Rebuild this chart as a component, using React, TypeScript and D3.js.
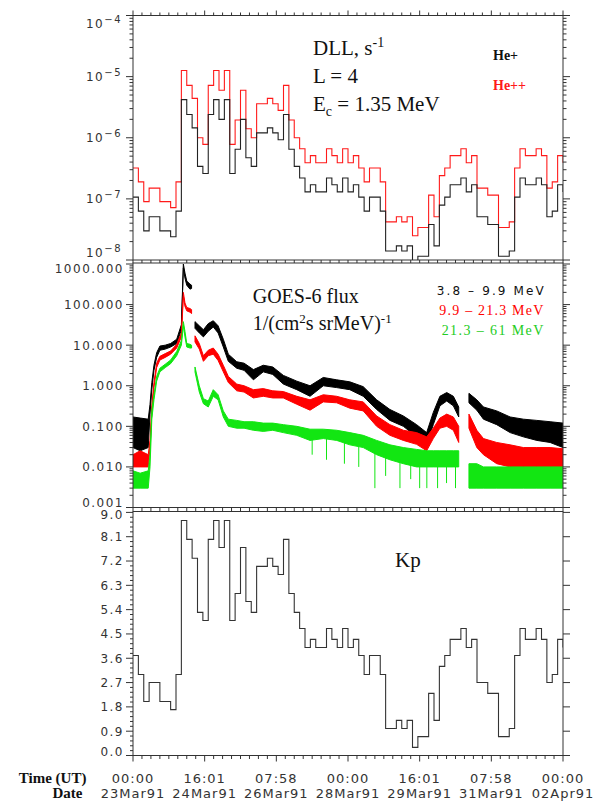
import * as d3 from 'd3';

// Kp and DLL are 3-hour values starting 23Mar91 00:00 (last entry closes the step at 02Apr91 00:00)
const KP_STEP_HOURS = 3;

const kpValues = [
  3.7, 3.0, 2.0, 2.7, 2.7, 2.0, 2.0, 1.7, 3.0, 8.7,
  8.0, 7.3, 5.3, 5.0, 8.0, 8.7, 7.7, 8.7, 5.0, 6.0,
  7.7, 5.7, 5.3, 7.0, 7.0, 7.3, 7.0, 6.7, 8.0, 6.0,
  5.3, 4.7, 4.0, 4.3, 4.0, 4.0, 4.7, 4.3, 4.0, 4.7,
  4.0, 4.3, 3.7, 3.0, 3.7, 3.7, 3.0, 1.0, 1.0, 1.3,
  1.0, 1.3, 0.3, 0.7, 0.7, 2.3, 1.3, 3.3, 3.7, 4.3,
  4.3, 4.7, 4.0, 4.3, 2.7, 2.7, 2.3, 2.3, 0.7, 0.7,
  1.0, 3.7, 4.7, 4.3, 4.3, 4.7, 4.3, 2.7, 3.0, 4.3,
  4.0,
];

const dllHePlus = [
  1.07e-7, 6.3e-8, 3.0e-8, 5.1e-8, 5.1e-8, 3.0e-8, 3.0e-8, 2.4e-8, 6.3e-8, 4.2e-6,
  2.4e-6, 1.45e-6, 3.4e-7, 2.6e-7, 2.4e-6, 4.2e-6, 2.0e-6, 4.2e-6, 2.6e-7, 6.5e-7,
  2.0e-6, 4.7e-7, 3.4e-7, 1.2e-6, 1.2e-6, 1.45e-6, 1.2e-6, 9.3e-7, 2.4e-6, 6.5e-7,
  3.4e-7, 2.2e-7, 1.3e-7, 1.7e-7, 1.3e-7, 1.3e-7, 2.2e-7, 1.7e-7, 1.3e-7, 2.2e-7,
  1.3e-7, 1.7e-7, 1.07e-7, 6.3e-8, 1.07e-7, 1.07e-7, 6.3e-8, 1.4e-8, 1.4e-8, 1.7e-8,
  1.4e-8, 1.7e-8, 8.3e-9, 1.15e-8, 1.15e-8, 3.8e-8, 1.7e-8, 7.9e-8, 1.07e-7, 1.7e-7,
  1.7e-7, 2.2e-7, 1.3e-7, 1.7e-7, 5.1e-8, 5.1e-8, 3.8e-8, 3.8e-8, 1.15e-8, 1.15e-8,
  1.4e-8, 1.07e-7, 2.2e-7, 1.7e-7, 1.7e-7, 2.2e-7, 1.7e-7, 5.1e-8, 6.3e-8, 1.7e-7,
  1.3e-7,
];

const dllHePlusPlus = [
  3.2e-7, 1.9e-7, 9.0e-8, 1.5e-7, 1.5e-7, 9.0e-8, 9.0e-8, 7.2e-8, 1.9e-7, 1.26e-5,
  7.2e-6, 4.4e-6, 1.0e-6, 7.8e-7, 7.2e-6, 1.26e-5, 6.0e-6, 1.26e-5, 7.8e-7, 1.95e-6,
  6.0e-6, 1.4e-6, 1.0e-6, 3.6e-6, 3.6e-6, 4.4e-6, 3.6e-6, 2.8e-6, 7.2e-6, 1.95e-6,
  1.0e-6, 6.6e-7, 3.9e-7, 5.1e-7, 3.9e-7, 3.9e-7, 6.6e-7, 5.1e-7, 3.9e-7, 6.6e-7,
  3.9e-7, 5.1e-7, 3.2e-7, 1.9e-7, 3.2e-7, 3.2e-7, 1.9e-7, 4.2e-8, 4.2e-8, 5.1e-8,
  4.2e-8, 5.1e-8, 2.5e-8, 3.4e-8, 3.4e-8, 1.15e-7, 5.1e-8, 2.4e-7, 3.2e-7, 5.1e-7,
  5.1e-7, 6.6e-7, 3.9e-7, 5.1e-7, 1.5e-7, 1.5e-7, 1.15e-7, 1.15e-7, 3.4e-8, 3.4e-8,
  4.2e-8, 3.2e-7, 6.6e-7, 5.1e-7, 5.1e-7, 6.6e-7, 5.1e-7, 1.5e-7, 1.9e-7, 5.1e-7,
  3.9e-7,
];

// GOES-6 proton flux: low / high edge of the noisy trace, hours since 23Mar91 00:00
const goesHours = [
  0, 4, 8.5, 9.5, 10.5, 11.7, 13.2, 15, 18, 21,
  24.4, 27, 28.1, 29, 30, 31.8, 32.7, 33.6, 34.6, 37,
  39.3, 42, 44.8, 47.5, 50.4, 53.2, 57.9, 62, 67.2, 72.7,
  78, 83.9, 91.4, 98.8, 106.2, 113.7, 121, 128.5, 136, 143.4,
  150.9, 158.3, 163.9, 167.6, 171.3, 175.1, 178.8, 181.8, 184.5, 187.5,
  191.9, 195.6, 203, 210.5, 217.9, 225.4, 232.8, 240,
];

const flux38Lo = [
  0.03, 0.025, 0.03, 0.2, 0.8, 2.4, 5, 7.5, 8, 9,
  11, 24, 800, 450, 300, 240, 250, null, 26, 20,
  16, 22, 28, 20, 9, 4, 2.7, 2.4, 1.4, 2.2,
  1.9, 1.1, 0.8, 0.55, 1.0, 0.9, 0.8, 0.55, 0.26, 0.14,
  0.1, 0.055, 0.035, 0.11, 0.32, 0.42, 0.32, 0.17, null, 0.38,
  0.25, 0.15, 0.11, 0.07, 0.055, 0.045, 0.04, 0.03,
];
const flux38Hi = [
  0.17, 0.16, 0.15, 0.35, 1.2, 3.2, 6.5, 9.5, 10, 11,
  14, 32, 1000, 600, 380, 320, 300, null, 38, 30,
  24, 34, 40, 30, 14, 6, 3.9, 3.6, 2.5, 3.2,
  2.9, 1.8, 1.3, 1.0, 1.6, 1.4, 1.25, 0.95, 0.45, 0.26,
  0.18, 0.11, 0.07, 0.22, 0.55, 0.68, 0.55, 0.3, null, 0.65,
  0.45, 0.3, 0.24, 0.17, 0.15, 0.14, 0.13, 0.12,
];

const flux99Lo = [
  0.01, 0.01, 0.01, 0.03, 0.22, 0.9, 2.8, 4.3, 5, 6,
  8.5, 16, 160, 90, 70, 65, 60, null, 12, 8,
  4, 5.5, 6, 4.2, 2.2, 1.2, 0.75, 0.7, 0.5, 0.55,
  0.5, 0.5, 0.35, 0.25, 0.4, 0.38, 0.28, 0.24, 0.1, 0.06,
  0.045, 0.036, 0.025, 0.05, 0.09, 0.1, 0.08, 0.04, null, 0.09,
  0.03, 0.02, 0.012, 0.01, 0.01, 0.01, 0.01, 0.01,
];
const flux99Hi = [
  0.02, 0.025, 0.02, 0.045, 0.32, 1.2, 3.6, 5.3, 6.2, 7.2,
  10.5, 20, 200, 110, 85, 80, 75, null, 17, 11,
  5.5, 7.5, 8.5, 6, 3.2, 1.7, 1.1, 1.0, 0.8, 0.85,
  0.75, 0.72, 0.55, 0.45, 0.6, 0.55, 0.45, 0.4, 0.18, 0.11,
  0.08, 0.07, 0.055, 0.09, 0.16, 0.2, 0.17, 0.1, null, 0.2,
  0.08, 0.05, 0.04, 0.035, 0.03, 0.03, 0.03, 0.028,
];

const flux213Lo = [
  0.003, 0.003, 0.003, 0.01, 0.15, 0.45, 1.3, 2.2, 2.8, 3.5,
  5.5, 10, 30, 16, 9, 8.5, 8.5, null, 2.2, 0.7,
  0.36, 0.3, 0.55, 0.45, 0.17, 0.1, 0.09, 0.09, 0.08, 0.075,
  0.08, 0.07, 0.06, 0.045, 0.05, 0.045, 0.035, 0.03, 0.02, 0.015,
  0.012, 0.01, 0.01, 0.01, 0.01, 0.01, 0.01, 0.01, null, 0.003,
  0.003, 0.003, 0.003, 0.003, 0.003, 0.003, 0.003, 0.003,
];
const flux213Hi = [
  0.008, 0.007, 0.008, 0.02, 0.25, 0.6, 1.7, 2.7, 3.4, 4.3,
  7, 13, 38, 22, 11, 10.5, 10, null, 2.9, 1.0,
  0.48, 0.42, 0.8, 0.6, 0.24, 0.15, 0.14, 0.13, 0.13, 0.12,
  0.12, 0.11, 0.1, 0.085, 0.085, 0.08, 0.07, 0.06, 0.045, 0.035,
  0.03, 0.027, 0.025, 0.025, 0.025, 0.025, 0.025, 0.025, null, 0.012,
  0.012, 0.01, 0.01, 0.01, 0.01, 0.01, 0.01, 0.01,
];

// downward dropouts in the 21.3-61 MeV channel
const greenSpikeHours = [100, 108, 118, 126, 135, 141, 149, 155, 160, 164, 170, 175, 180];
const greenSpikeTop = [0.05, 0.05, 0.04, 0.035, 0.025, 0.02, 0.015, 0.013, 0.012, 0.01, 0.01, 0.01, 0.01];
const greenSpikeLow = [0.02, 0.015, 0.012, 0.01, 0.003, 0.006, 0.003, 0.005, 0.003, 0.003, 0.003, 0.004, 0.003];

const timeLabels = ['00:00', '16:01', '07:58', '00:00', '16:01', '07:58', '00:00'];
const dateLabels = ['23Mar91', '24Mar91', '26Mar91', '28Mar91', '29Mar91', '31Mar91', '02Apr91'];
const dllExponents = [-4, -5, -6, -7, -8];
const fluxTicks = [1000, 100, 10, 1, 0.1, 0.01, 0.001];
const fluxTickLabels = ['1000.000', '100.000', '10.000', '1.000', '0.100', '0.010', '0.001'];
const kpTicks = [9.0, 8.1, 7.2, 6.3, 5.4, 4.5, 3.6, 2.7, 1.8, 0.9, 0.0];

const LEFT = 133;
const RIGHT = 563;
const top = { y0: 15.5, y1: 260 };
const mid = { y0: 263, y1: 507.5 };
const bot = { y0: 511.5, y1: 755.5 };

const AXIS = '#333';
const LABEL_FONT = 'DejaVu Sans, sans-serif';
const SERIF = 'Liberation Serif, Times New Roman, serif';
const GREEN = '#12e612';

export default function App() {
  const x = d3.scaleLinear().domain([0, 240]).range([LEFT, RIGHT]);
  const yDll = d3.scaleLog().domain([1e-8, 1e-4]).range([top.y1, top.y0]);
  const yFlux = d3.scaleLog().domain([1e-3, 1e3]).range([mid.y1, 264]);
  const yKp = d3.scaleLinear().domain([0, 9]).range([bot.y1, 512.4]);

  const stepPath = (scale: any, vals: number[]) =>
    d3.line<number>()
      .x((_, i) => x(i * KP_STEP_HOURS))
      .y((d) => scale(d))
      .curve(d3.curveStepAfter)(vals) || '';

  const band = (lo: (number | null)[], hi: (number | null)[]) =>
    d3.area<number>()
      .defined((_, i) => lo[i] != null && hi[i] != null)
      .x((h) => x(h))
      .y0((_, i) => yFlux(lo[i] as number))
      .y1((_, i) => yFlux(hi[i] as number))(goesHours) || '';

  const xMinor = d3.range(0, 240.01, 5);
  const xMajor = d3.range(0, 240.01, 40);

  const logMinor = (e0: number, e1: number) => {
    const out: number[] = [];
    for (let e = e0; e < e1; e++) for (let d = 2; d <= 9; d++) out.push(d * Math.pow(10, e));
    return out;
  };
  const dllMinor = logMinor(-8, -4);
  const fluxMinor = logMinor(-3, 3);
  const kpMinor = d3.range(0, 9.001, 0.18).filter((v) => Math.abs(v / 0.9 - Math.round(v / 0.9)) > 0.01);

  const yTicks = (ys: number[], len: number, bothSides = true) =>
    ys.map((yy, i) => (
      <g key={i}>
        <line x1={LEFT - len} x2={LEFT} y1={yy} y2={yy} />
        {bothSides && <line x1={RIGHT} x2={RIGHT + len} y1={yy} y2={yy} />}
      </g>
    ));

  const frame = (p: { y0: number; y1: number }) => (
    <rect x={LEFT} y={p.y0} width={RIGHT - LEFT} height={p.y1 - p.y0} fill="none" />
  );

  return (
    <svg width={602} height={801} style={{ position: 'absolute', left: 0, top: 0, background: '#fff' }}>
      <defs>
        <clipPath id="clipTop"><rect x={LEFT} y={top.y0} width={RIGHT - LEFT} height={top.y1 - top.y0} /></clipPath>
        <clipPath id="clipMid"><rect x={LEFT} y={mid.y0} width={RIGHT - LEFT} height={mid.y1 - mid.y0} /></clipPath>
        <clipPath id="clipBot"><rect x={LEFT} y={bot.y0} width={RIGHT - LEFT} height={bot.y1 - bot.y0} /></clipPath>
      </defs>

      {/* data */}
      <g clipPath="url(#clipTop)" fill="none" strokeWidth={1.1}>
        <path d={stepPath(yDll, dllHePlusPlus)} stroke="#ff1a1a" />
        <path d={stepPath(yDll, dllHePlus)} stroke="#222" />
      </g>
      <g clipPath="url(#clipMid)">
        <path d={band(flux38Lo, flux38Hi)} fill="#000" stroke="#000" strokeWidth={1} />
        <path d={band(flux99Lo, flux99Hi)} fill="#ff0000" stroke="#ff0000" strokeWidth={1} />
        <path d={band(flux213Lo, flux213Hi)} fill={GREEN} stroke={GREEN} strokeWidth={1} />
        {greenSpikeHours.map((h, i) => (
          <line key={i} x1={x(h)} x2={x(h)} y1={yFlux(greenSpikeTop[i])} y2={yFlux(greenSpikeLow[i])} stroke={GREEN} strokeWidth={1} />
        ))}
      </g>
      <g clipPath="url(#clipBot)">
        <path d={stepPath(yKp, kpValues)} fill="none" stroke="#333" strokeWidth={1.1} />
      </g>

      {/* frames and ticks */}
      <g stroke={AXIS} strokeWidth={1} fill="none">
        {frame(top)}
        {frame(mid)}
        {frame(bot)}
        {xMinor.map((h, i) => {
          const major = xMajor.includes(h);
          return (
            <g key={i}>
              <line x1={x(h)} x2={x(h)} y1={top.y0 - (major ? 5 : 3)} y2={top.y0} />
              <line x1={x(h)} x2={x(h)} y1={top.y1} y2={mid.y0} />
              <line x1={x(h)} x2={x(h)} y1={mid.y1} y2={bot.y0} />
              <line x1={x(h)} x2={x(h)} y1={bot.y1} y2={bot.y1 + (major ? 6 : 3.5)} />
            </g>
          );
        })}
        {yTicks(dllExponents.map((e) => yDll(Math.pow(10, e))), 7)}
        {yTicks(dllMinor.map((v) => yDll(v)), 3.5)}
        {yTicks(fluxTicks.map((v) => yFlux(v)), 7)}
        {yTicks(fluxMinor.map((v) => yFlux(v)), 3.5)}
        {yTicks(kpTicks.map((v) => yKp(v)), 7)}
        {yTicks(kpMinor.map((v) => yKp(v)), 3, false)}
      </g>

      {/* y tick labels */}
      <g fontFamily={LABEL_FONT} fontSize={12} fill="#333" textAnchor="end" style={{ letterSpacing: '1.5px' }}>
        {dllExponents.map((e) => {
          const dy = e === -4 ? 12 : e === -8 ? -2.6 : 4.4;
          return (
            <text key={e} x={122} y={yDll(Math.pow(10, e)) + dy}>
              10<tspan dy={-5} fontSize={10}>{'\u2212' + -e}</tspan>
            </text>
          );
        })}
        {fluxTicks.map((v, i) => {
          const dy = i === 0 ? 8.9 : i === fluxTicks.length - 1 ? -0.6 : 4.4;
          return <text key={i} x={124} y={yFlux(v) + dy}>{fluxTickLabels[i]}</text>;
        })}
        {kpTicks.map((v, i) => {
          const dy = i === 0 ? 7 : i === kpTicks.length - 1 ? 0.5 : 4.4;
          return <text key={i} x={124} y={yKp(v) + dy}>{v.toFixed(1)}</text>;
        })}
      </g>

      {/* time axis labels */}
      <g fontFamily={LABEL_FONT} fontSize={13} fill="#333" textAnchor="middle" style={{ letterSpacing: '1px' }}>
        {xMajor.map((h, i) => (
          <g key={i}>
            <text x={x(h)} y={782.7}>{timeLabels[i]}</text>
            <text x={x(h)} y={798}>{dateLabels[i]}</text>
          </g>
        ))}
      </g>
      <g fontFamily={SERIF} fontSize={15} fontWeight="bold" fill="#111" textAnchor="end">
        <text x={86.4} y={782.7}>Time (UT)</text>
        <text x={82.5} y={797.5}>Date</text>
      </g>

      {/* annotations */}
      <g fontFamily={SERIF} fontSize={21} fill="#111">
        <text x={313} y={55}>DLL, s<tspan dy={-8} fontSize={14}>-1</tspan></text>
        <text x={313} y={83}>L = 4</text>
        <text x={313} y={110.7}>E<tspan dy={5} fontSize={14}>c</tspan><tspan dy={-5}> = 1.35 MeV</tspan></text>
        <text x={252.7} y={303} fontSize={20}>GOES-6 flux</text>
        <text x={252.7} y={330} fontSize={20}>
          1/(cm<tspan dy={-7} fontSize={13}>2</tspan><tspan dy={7}>s srMeV)</tspan><tspan dy={-7} fontSize={13}>-1</tspan>
        </text>
        <text x={395} y={566.5}>Kp</text>
      </g>
      <g fontFamily={SERIF} fontSize={14} fontWeight="bold">
        <text x={493} y={59.5} fill="#111">He+</text>
        <text x={493} y={89.5} fill="#ff1a1a">He++</text>
      </g>
      <text x={436.7} y={295} fontFamily={LABEL_FONT} fontSize={12} fill="#111" textLength={107} lengthAdjust="spacing">3.8 – 9.9 MeV</text>
      <text x={439.3} y={315} fontFamily={SERIF} fontSize={14} fill="#ff0000" textLength={104} lengthAdjust="spacing">9.9 – 21.3 MeV</text>
      <text x={441.7} y={335} fontFamily={SERIF} fontSize={14} fill="#22cc22" textLength={101.6} lengthAdjust="spacing">21.3 – 61 MeV</text>
    </svg>
  );
}
